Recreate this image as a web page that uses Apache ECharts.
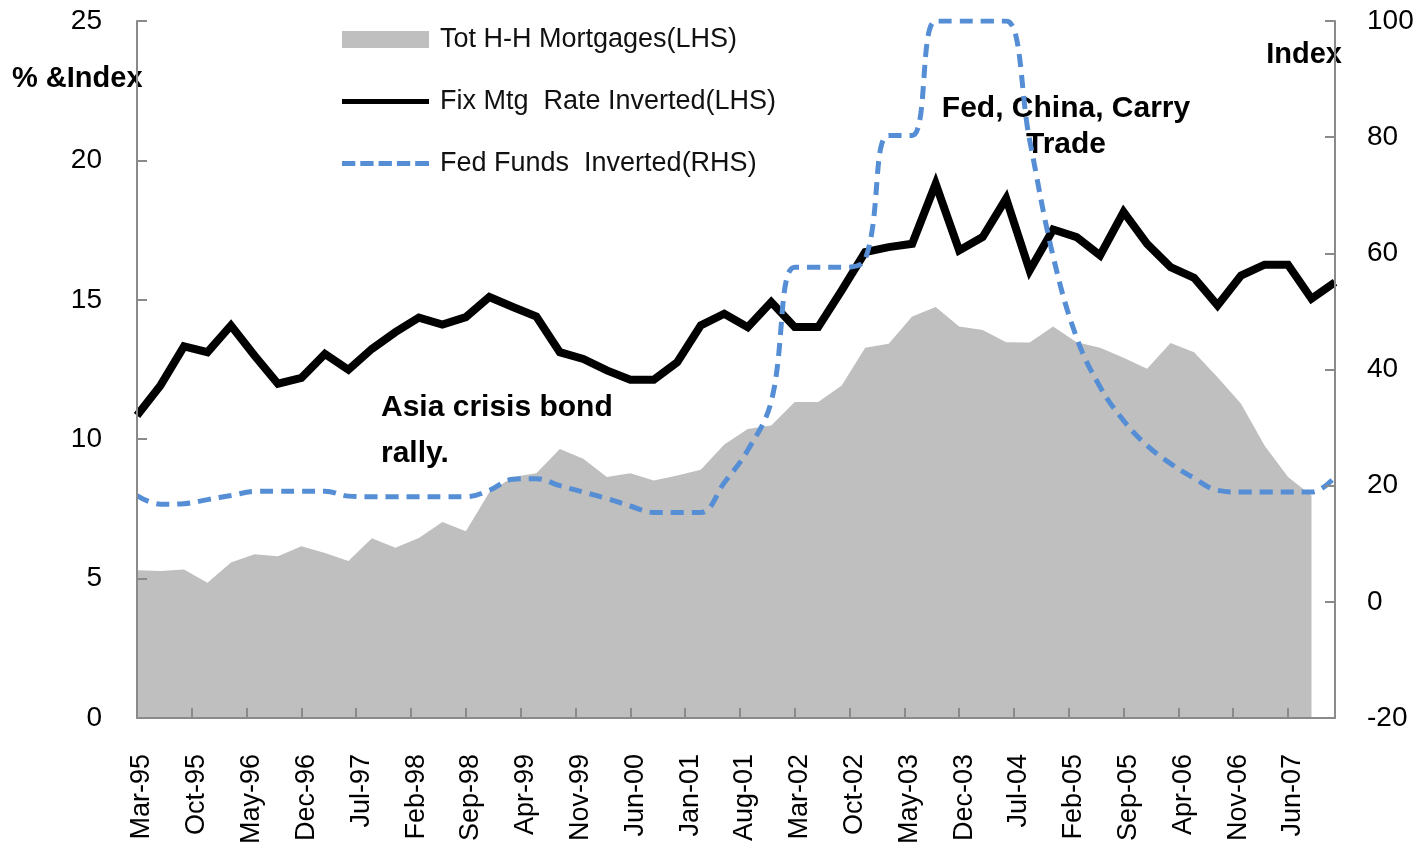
<!DOCTYPE html>
<html>
<head>
<meta charset="utf-8">
<title>Mortgages, mortgage rate and Fed Funds</title>
<script src="https://cdn.jsdelivr.net/npm/echarts@6/dist/echarts.min.js"></script>
<style>
  html, body { margin: 0; padding: 0; background: #fff; }
  #chart { width: 1427px; height: 858px; }
</style>
</head>
<body>
<div id="chart"></div>
<script>
// quarterly observations, Mar-95 .. Dec-07
const quarters = [
  'Mar-95', 'Jun-95', 'Sep-95', 'Dec-95', 'Mar-96', 'Jun-96', 'Sep-96', 'Dec-96',
  'Mar-97', 'Jun-97', 'Sep-97', 'Dec-97', 'Mar-98', 'Jun-98', 'Sep-98', 'Dec-98',
  'Mar-99', 'Jun-99', 'Sep-99', 'Dec-99', 'Mar-00', 'Jun-00', 'Sep-00', 'Dec-00',
  'Mar-01', 'Jun-01', 'Sep-01', 'Dec-01', 'Mar-02', 'Jun-02', 'Sep-02', 'Dec-02',
  'Mar-03', 'Jun-03', 'Sep-03', 'Dec-03', 'Mar-04', 'Jun-04', 'Sep-04', 'Dec-04',
  'Mar-05', 'Jun-05', 'Sep-05', 'Dec-05', 'Mar-06', 'Jun-06', 'Sep-06', 'Dec-06',
  'Mar-07', 'Jun-07', 'Sep-07', 'Dec-07'
]

// axis labels, one every 7 months
const tickLabels = [
  'Mar-95', 'Oct-95', 'May-96', 'Dec-96', 'Jul-97', 'Feb-98', 'Sep-98', 'Apr-99',
  'Nov-99', 'Jun-00', 'Jan-01', 'Aug-01', 'Mar-02', 'Oct-02', 'May-03', 'Dec-03',
  'Jul-04', 'Feb-05', 'Sep-05', 'Apr-06', 'Nov-06', 'Jun-07'
]

// Tot H-H Mortgages (LHS)
const mortgages = [
  5.30, 5.27, 5.33, 4.85, 5.58, 5.87, 5.80, 6.16, 5.92, 5.63,
  6.45, 6.11, 6.46, 7.03, 6.70, 8.10, 8.64, 8.78, 9.65, 9.30,
  8.64, 8.78, 8.52, 8.70, 8.90, 9.81, 10.37, 10.49, 11.33, 11.33,
  11.93, 13.28, 13.42, 14.40, 14.74, 14.04, 13.92, 13.48, 13.47, 14.04,
  13.48, 13.28, 12.92, 12.53, 13.45, 13.12, 12.22, 11.27, 9.77, 8.64,
  7.98, null
]

// Fix Mtg Rate Inverted (LHS)
const fixRate = [
  10.85, 11.93, 13.33, 13.12, 14.08, 13.00, 11.99, 12.20, 13.06, 12.49,
  13.24, 13.84, 14.36, 14.11, 14.38, 15.10, 14.74, 14.40, 13.12, 12.88,
  12.47, 12.13, 12.13, 12.76, 14.08, 14.50, 14.02, 14.92, 14.02, 14.02,
  15.34, 16.71, 16.89, 17.01, 19.16, 16.77, 17.25, 18.63, 16.05, 17.52,
  17.25, 16.59, 18.15, 17.01, 16.17, 15.79, 14.80, 15.87, 16.26, 16.26,
  15.04, 15.63
]

// Fed Funds Inverted (RHS)
const fedFunds = [
  18.3, 16.8, 16.9, 17.6, 18.3, 19.0, 19.05, 19.05, 19.05, 18.2,
  18.1, 18.1, 18.1, 18.1, 18.1, 19.2, 21.1, 21.2, 20.0, 18.9,
  17.8, 16.5, 15.4, 15.4, 15.4, 20.5, 26.1, 34.5, 57.6, 57.6,
  57.6, 59.0, 80.3, 80.3, 100, 100, 100, 100, 79.5, 59.5,
  45.5, 37.0, 31.2, 26.9, 23.8, 21.3, 19.2, 18.9, 18.9, 18.9,
  18.9, 21.5
]

const MONTHS = ['Jan', 'Feb', 'Mar', 'Apr', 'May', 'Jun', 'Jul', 'Aug', 'Sep', 'Oct', 'Nov', 'Dec']
const FONT = '"Liberation Sans", Arial, sans-serif'
const AXIS_GREY = '#8a8a8a'
const NAMES = ['Tot H-H Mortgages(LHS)', 'Fix Mtg  Rate Inverted(LHS)', 'Fed Funds  Inverted(RHS)']

// absolute month number of a 'Mmm-yy' label
const monthNo = (label) => {
  const [m, y] = label.split('-')
  const yy = parseInt(y, 10)
  return (yy < 50 ? 2000 + yy : 1900 + yy) * 12 + MONTHS.indexOf(m)
}
const start = monthNo(quarters[0])
const monthPos = (label) => monthNo(label) - start
const toPoints = (values) => values.map((v, i) => [monthPos(quarters[i]), v])

const tickByPos = {}
tickLabels.forEach(l => { tickByPos[monthPos(l)] = l })

const chart = echarts.init(document.getElementById('chart'))

const axisLine = { show: true, onZero: false, lineStyle: { color: AXIS_GREY, width: 2 } }
const axisTick = { show: true, inside: true, length: 10, lineStyle: { color: AXIS_GREY, width: 2 } }

// one legend box per row so every key can have its own height
const legendRow = (name, top, icon, h) => ({
  orient: 'vertical',
  left: 342,
  top: top,
  padding: 0,
  itemWidth: 87,
  itemHeight: h,
  selectedMode: false,
  textStyle: { fontSize: 27, color: '#111', fontFamily: FONT, lineHeight: 26, padding: [0, 0, 0, 6] },
  data: [{ name: name, icon: icon }]
})

const dashIcon = 'path://M0,0h13.3v5h-13.3z M18.3,0h13.3v5h-13.3z M36.6,0h13.3v5h-13.3z M54.9,0h13.3v5h-13.3z M73.2,0h13.8v5h-13.8z'

const option = {
  backgroundColor: '#fff',
  animation: false,
  textStyle: { fontFamily: FONT },
  grid: { left: 137, right: 92, top: 21, bottom: 140 },
  legend: [
    legendRow(NAMES[0], 26, 'rect', 17),
    legendRow(NAMES[1], 88, 'rect', 5),
    legendRow(NAMES[2], 150, dashIcon, 5)
  ],
  xAxis: {
    type: 'value',
    min: 0,
    max: monthPos(quarters[quarters.length - 1]),
    interval: 7,
    z: 5,
    axisLine: axisLine,
    axisTick: axisTick,
    splitLine: { show: false },
    axisLabel: {
      rotate: 90,
      margin: 36,
      fontSize: 27,
      color: '#000',
      verticalAlign: 'top',
      lineHeight: 10,
      showMaxLabel: false,
      formatter: (v) => tickByPos[v] || ''
    }
  },
  yAxis: [
    {
      type: 'value',
      position: 'left',
      min: 0,
      max: 25,
      interval: 5,
      z: 5,
      axisLine: axisLine,
      axisTick: axisTick,
      splitLine: { show: false },
      axisLabel: { fontSize: 28, color: '#000', margin: 35 }
    },
    {
      type: 'value',
      position: 'right',
      min: -20,
      max: 100,
      interval: 20,
      z: 5,
      axisLine: axisLine,
      axisTick: axisTick,
      splitLine: { show: false },
      axisLabel: { fontSize: 28, color: '#000', margin: 32 }
    }
  ],
  series: [
    {
      name: NAMES[0],
      type: 'line',
      data: toPoints(mortgages),
      symbol: 'none',
      color: '#bfbfbf',
      lineStyle: { width: 0 },
      areaStyle: { color: '#bfbfbf', opacity: 1 },
      z: 1
    },
    {
      name: NAMES[1],
      type: 'line',
      data: toPoints(fixRate),
      symbol: 'none',
      color: '#000',
      lineStyle: { color: '#000', width: 8, join: 'miter' },
      z: 2
    },
    {
      name: NAMES[2],
      type: 'line',
      yAxisIndex: 1,
      data: toPoints(fedFunds),
      symbol: 'none',
      smooth: 0.4,
      color: '#558ed5',
      lineStyle: { color: '#558ed5', width: 5, type: [13, 8] },
      z: 3
    }
  ],
  graphic: [
    {
      type: 'text', x: 12, y: 79,
      style: { text: '% &Index', font: 'bold 29px ' + FONT, fill: '#000', verticalAlign: 'middle' }
    },
    {
      type: 'text', x: 1342, y: 55,
      style: { text: 'Index', font: 'bold 29px ' + FONT, fill: '#000', align: 'right', verticalAlign: 'middle' }
    },
    {
      type: 'text', x: 1066, y: 91,
      style: { text: 'Fed, China, Carry\nTrade', font: 'bold 30px ' + FONT, fill: '#000', align: 'center', lineHeight: 36 }
    },
    {
      type: 'text', x: 381, y: 385,
      style: { text: 'Asia crisis bond\nrally.', font: 'bold 30px ' + FONT, fill: '#000', lineHeight: 46 }
    }
  ]
}

chart.setOption(option)
</script>
</body>
</html>
